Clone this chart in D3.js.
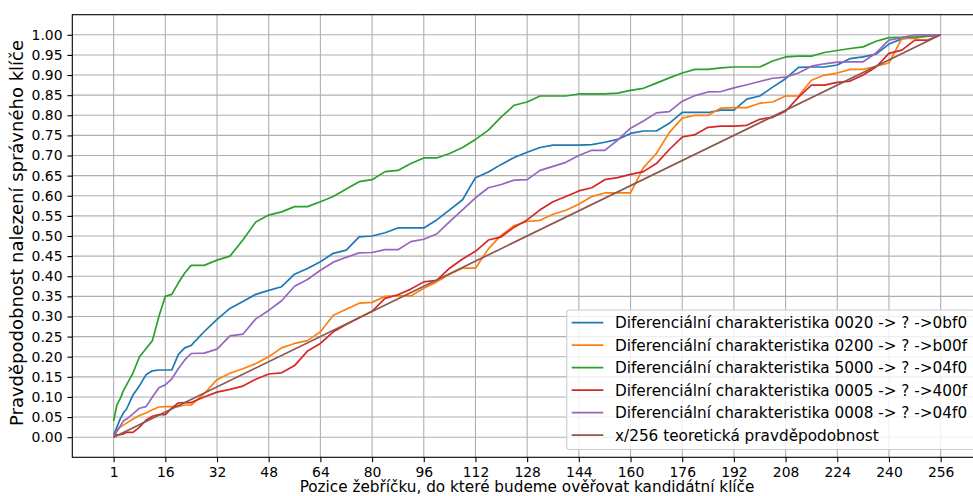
<!DOCTYPE html>
<html>
<head>
<meta charset="utf-8">
<script src="https://cdn.jsdelivr.net/npm/d3@7"></script>
<style>
  html, body { margin: 0; padding: 0; background: #fff; }
  svg { display: block; font-family: "DejaVu Sans", sans-serif; }
</style>
</head>
<body>
<div id="chart"></div>
<script>
// cumulative probability of finding the right key vs. ladder position

// rank positions (shared by all measured series)
const ranks = [0, 1, 2, 3, 4, 6, 8, 10, 12, 14, 16, 18, 20, 22, 24,
  28, 32, 36, 40, 44, 48, 52, 56, 60, 64, 68, 72, 76, 80, 84, 88, 92, 96,
  100, 104, 108, 112, 116, 120, 124, 128, 132, 136, 140, 144, 148, 152, 156, 160,
  164, 168, 172, 176, 180, 184, 188, 192, 196, 200, 204, 208, 212, 216, 220, 224,
  228, 232, 236, 240, 244, 248, 252, 256];

const char0020 = [0.005, 0.025, 0.045, 0.06, 0.07, 0.105, 0.128, 0.155, 0.165, 0.167, 0.167, 0.167, 0.205, 0.222, 0.228,
  0.262, 0.293, 0.32, 0.337, 0.355, 0.365, 0.374, 0.405, 0.419, 0.436, 0.457, 0.465, 0.498, 0.5, 0.508, 0.52, 0.52, 0.52,
  0.54, 0.565, 0.59, 0.645, 0.659, 0.678, 0.695, 0.708, 0.72, 0.726, 0.726, 0.726, 0.727, 0.733, 0.74, 0.755,
  0.761, 0.761, 0.78, 0.807, 0.807, 0.807, 0.813, 0.813, 0.84, 0.848, 0.87, 0.891, 0.919, 0.92, 0.92, 0.925,
  0.941, 0.945, 0.952, 0.977, 0.99, 0.994, 0.996, 1.0];

const char0200 = [0.0, 0.015, 0.025, 0.03, 0.035, 0.045, 0.054, 0.06, 0.068, 0.075, 0.076, 0.076, 0.076, 0.08, 0.08,
  0.108, 0.143, 0.159, 0.17, 0.183, 0.2, 0.222, 0.233, 0.24, 0.262, 0.303, 0.318, 0.333, 0.335, 0.35, 0.351, 0.351, 0.37,
  0.386, 0.405, 0.42, 0.42, 0.468, 0.502, 0.526, 0.536, 0.539, 0.554, 0.564, 0.579, 0.598, 0.607, 0.607, 0.607,
  0.67, 0.705, 0.757, 0.793, 0.8, 0.8, 0.818, 0.819, 0.819, 0.83, 0.833, 0.848, 0.848, 0.887, 0.9, 0.905,
  0.914, 0.914, 0.922, 0.93, 0.991, 0.991, 0.997, 1.0];

const char5000 = [0.04, 0.08, 0.095, 0.115, 0.13, 0.16, 0.2, 0.22, 0.24, 0.3, 0.35, 0.355, 0.383, 0.408, 0.427,
  0.427, 0.44, 0.45, 0.49, 0.535, 0.552, 0.56, 0.573, 0.573, 0.585, 0.598, 0.617, 0.635, 0.64, 0.66, 0.663, 0.68, 0.694,
  0.694, 0.705, 0.72, 0.74, 0.763, 0.796, 0.825, 0.833, 0.848, 0.848, 0.848, 0.853, 0.853, 0.853, 0.855, 0.862,
  0.867, 0.88, 0.893, 0.905, 0.914, 0.914, 0.918, 0.92, 0.92, 0.92, 0.935, 0.945, 0.947, 0.947, 0.956, 0.961,
  0.966, 0.97, 0.984, 0.993, 0.994, 0.994, 0.998, 1.0];

const char0005 = [0.0, 0.006, 0.006, 0.008, 0.012, 0.012, 0.025, 0.042, 0.052, 0.056, 0.056, 0.072, 0.085, 0.086, 0.086,
  0.1, 0.112, 0.119, 0.127, 0.144, 0.157, 0.16, 0.178, 0.214, 0.233, 0.262, 0.28, 0.297, 0.313, 0.345, 0.354, 0.368, 0.386,
  0.39, 0.42, 0.443, 0.462, 0.49, 0.498, 0.522, 0.54, 0.565, 0.585, 0.598, 0.612, 0.62, 0.64, 0.645, 0.653,
  0.66, 0.68, 0.715, 0.746, 0.752, 0.77, 0.773, 0.773, 0.775, 0.79, 0.795, 0.81, 0.845, 0.875, 0.875, 0.882,
  0.885, 0.9, 0.92, 0.954, 0.962, 0.987, 0.987, 1.0];

const char0008 = [0.0, 0.015, 0.027, 0.04, 0.045, 0.058, 0.072, 0.076, 0.1, 0.123, 0.13, 0.145, 0.17, 0.192, 0.208,
  0.209, 0.219, 0.252, 0.256, 0.294, 0.315, 0.339, 0.375, 0.392, 0.415, 0.435, 0.447, 0.458, 0.459, 0.466, 0.466, 0.486, 0.492,
  0.505, 0.536, 0.565, 0.595, 0.62, 0.628, 0.639, 0.64, 0.663, 0.673, 0.683, 0.7, 0.713, 0.713, 0.738, 0.768,
  0.786, 0.806, 0.809, 0.835, 0.849, 0.858, 0.859, 0.868, 0.876, 0.884, 0.892, 0.895, 0.905, 0.922, 0.928, 0.932,
  0.933, 0.933, 0.955, 0.987, 0.993, 1.0, 1.0, 1.0];

// theoretical x/256, two end points
const theoryX = [0, 256];
const theoryY = [0, 1];

const seriesNames = [
  "Diferenciální charakteristika 0020 -> ? ->0bf0",
  "Diferenciální charakteristika 0200 -> ? ->b00f",
  "Diferenciální charakteristika 5000 -> ? ->04f0",
  "Diferenciální charakteristika 0005 -> ? ->400f",
  "Diferenciální charakteristika 0008 -> ? ->04f0",
  "x/256 teoretická pravděpodobnost"
];
const seriesColors = ["#1f77b4", "#ff7f0e", "#2ca02c", "#d62728", "#9467bd", "#8c564b"];

const xTickPos = [0, 16, 32, 48, 64, 80, 96, 112, 128, 144, 160, 176, 192, 208, 224, 240, 256];
const xTickLabels = ["1", "16", "32", "48", "64", "80", "96", "112", "128", "144", "160", "176", "192", "208", "224", "240", "256"];
const yTicks = [0, 0.05, 0.1, 0.15, 0.2, 0.25, 0.3, 0.35, 0.4, 0.45, 0.5, 0.55, 0.6, 0.65, 0.7, 0.75, 0.8, 0.85, 0.9, 0.95, 1.0];

const xLabel = "Pozice žebříčku, do které budeme ověřovat kandidátní klíče";
const yLabel = "Pravděpodobnost nalezení správného klíče";

const W = 973, H = 496;
// axes box, right side runs a bit past the picture like in the original
const ax = { left: 72.3, right: 982, top: 14.7, bottom: 457.3 };
const FS = 13.9;
const LW = 1.7;

// grow/shrink a text so it spans the width seen in the picture
function fitWidth(sel, target) {
  const w = sel.node().getComputedTextLength();
  const fs = parseFloat(sel.attr("font-size"));
  if (w > 0) sel.attr("font-size", fs * target / w);
}

const svg = d3.select("#chart").append("svg")
  .attr("width", W)
  .attr("height", H);

const x = d3.scaleLinear().domain([-12.8, 268.8]).range([ax.left, ax.right]);
const y = d3.scaleLinear().domain([-0.05, 1.05]).range([ax.bottom, ax.top]);

svg.append("defs").append("clipPath").attr("id", "clip")
  .append("rect")
  .attr("x", ax.left).attr("y", ax.top)
  .attr("width", ax.right - ax.left).attr("height", ax.bottom - ax.top);

// grid
const grid = svg.append("g").attr("stroke", "#b0b0b0").attr("stroke-width", 1.1);
grid.selectAll("line.gx").data(xTickPos).join("line")
  .attr("class", "gx")
  .attr("x1", d => x(d)).attr("x2", d => x(d))
  .attr("y1", ax.top).attr("y2", ax.bottom);
grid.selectAll("line.gy").data(yTicks).join("line")
  .attr("class", "gy")
  .attr("x1", ax.left).attr("x2", ax.right)
  .attr("y1", d => y(d)).attr("y2", d => y(d));

// series
const measured = [char0020, char0200, char5000, char0005, char0008];
const line = d3.line().x(d => x(d[0])).y(d => y(d[1]));

const plot = svg.append("g").attr("clip-path", "url(#clip)").attr("fill", "none");
measured.forEach((vals, i) => {
  plot.append("path")
    .attr("d", line(ranks.map((r, k) => [r, vals[k]])))
    .attr("stroke", seriesColors[i])
    .attr("stroke-width", LW)
    .attr("stroke-linejoin", "round");
});
plot.append("path")
  .attr("d", line(theoryX.map((r, k) => [r, theoryY[k]])))
  .attr("stroke", seriesColors[5])
  .attr("stroke-width", LW);

// axes
const xAxis = d3.axisBottom(x)
  .tickValues(xTickPos)
  .tickFormat((d, i) => xTickLabels[i])
  .tickSizeOuter(0)
  .tickSize(4.9)
  .tickPadding(4.9);
const yAxis = d3.axisLeft(y)
  .tickValues(yTicks)
  .tickFormat(d3.format(".2f"))
  .tickSizeOuter(0)
  .tickSize(4.9)
  .tickPadding(4.9);

const gx = svg.append("g").attr("transform", `translate(0,${ax.bottom})`).call(xAxis);
const gy = svg.append("g").attr("transform", `translate(${ax.left},0)`).call(yAxis);
[gx, gy].forEach(g => {
  g.select(".domain").remove();
  g.selectAll(".tick line").attr("stroke", "#000").attr("stroke-width", 1.1);
  g.selectAll(".tick text")
    .attr("fill", "#000")
    .attr("font-size", FS)
    .attr("font-family", "DejaVu Sans");
});

// spines
svg.append("rect")
  .attr("x", ax.left).attr("y", ax.top)
  .attr("width", ax.right - ax.left).attr("height", ax.bottom - ax.top)
  .attr("fill", "none")
  .attr("stroke", "#000")
  .attr("stroke-width", 1.1);

// axis labels
const xl = svg.append("text")
  .attr("x", 527)
  .attr("y", 491.5)
  .attr("text-anchor", "middle")
  .attr("font-size", FS)
  .text(xLabel);
fitWidth(xl, 455);

const yl = svg.append("text")
  .attr("transform", `translate(23,233) rotate(-90)`)
  .attr("text-anchor", "middle")
  .attr("font-size", FS)
  .text(yLabel);
fitWidth(yl, 386);

// legend, lower right
const legW = 975 - 566.7, legH = 449.5 - 310;
const leg = svg.append("g").attr("transform", `translate(566.7,310)`);
leg.append("rect")
  .attr("width", legW).attr("height", legH)
  .attr("rx", 3)
  .attr("fill", "#fff").attr("fill-opacity", 0.8)
  .attr("stroke", "#cccccc").attr("stroke-width", 1.1);

const rows = leg.selectAll("g.row").data(seriesNames).join("g")
  .attr("class", "row")
  .attr("transform", (d, i) => `translate(0,${12.7 + i * 22.47})`);
rows.append("line")
  .attr("x1", 5).attr("x2", 36.6)
  .attr("stroke", (d, i) => seriesColors[i])
  .attr("stroke-width", LW);
const legText = rows.append("text")
  .attr("x", 48.3)
  .attr("y", 5.5)
  .attr("font-size", FS)
  .attr("fill", "#000")
  .text(d => d);
// size all entries from the first one
const first = legText.filter((d, i) => i === 0);
fitWidth(first, 352);
legText.attr("font-size", first.attr("font-size"));
</script>
</body>
</html>
